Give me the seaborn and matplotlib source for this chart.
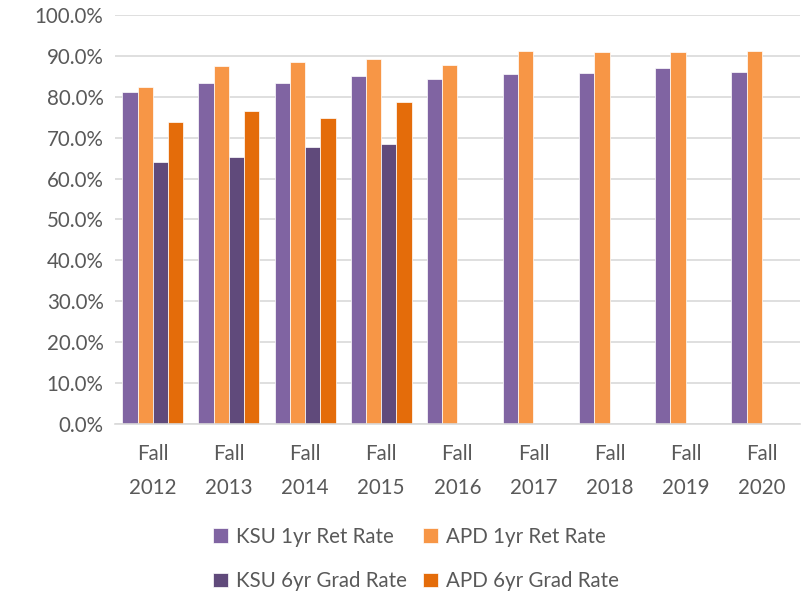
import numpy as np
import pandas as pd
import matplotlib
matplotlib.use("Agg")
import matplotlib.pyplot as plt
import seaborn as sns

# Data
terms = ["Fall\n2012", "Fall\n2013", "Fall\n2014", "Fall\n2015", "Fall\n2016",
         "Fall\n2017", "Fall\n2018", "Fall\n2019", "Fall\n2020"]
ksu_1yr = [81.1, 83.3, 83.4, 85.1, 84.3, 85.5, 85.8, 87.1, 86.0]
apd_1yr = [82.4, 87.4, 88.6, 89.3, 87.7, 91.1, 90.9, 90.9, 91.2]
ksu_6yr = [64.0, 65.3, 67.6, 68.5, np.nan, np.nan, np.nan, np.nan, np.nan]
apd_6yr = [73.7, 76.4, 74.8, 78.6, np.nan, np.nan, np.nan, np.nan, np.nan]

series = ["KSU 1yr Ret Rate", "APD 1yr Ret Rate", "KSU 6yr Grad Rate", "APD 6yr Grad Rate"]
colors = ["#8064A2", "#F79646", "#604A7B", "#E46C0A"]

df = pd.DataFrame({
    "Term": terms * 4,
    "Series": np.repeat(series, len(terms)),
    "Rate": ksu_1yr + apd_1yr + ksu_6yr + apd_6yr,
})

sns.set_style("white")
plt.rcParams["font.family"] = ["Lato", "DejaVu Sans"]

fig = plt.figure(figsize=(8.08, 5.94), dpi=100)
ax = fig.add_axes([0.142, 0.286, 0.848, 0.689])

sns.barplot(data=df, x="Term", y="Rate", hue="Series", hue_order=series,
            order=terms, palette=colors, width=0.8, saturation=1,
            edgecolor="white", linewidth=0.5, ax=ax, legend=True)

ax.set_ylim(0, 100)
ax.set_yticks(np.arange(0, 101, 10))
ax.set_yticklabels([f"{v:.1f}%" for v in range(0, 101, 10)])
ax.set_xlim(-0.5, len(terms) - 0.5)
ax.yaxis.grid(True, color="#D9D9D9", linewidth=1.2)
ax.set_axisbelow(True)
ax.set_xlabel("")
ax.set_ylabel("")
for s in ["top", "right", "left"]:
    ax.spines[s].set_visible(False)
ax.spines["bottom"].set_color("#D9D9D9")
ax.spines["bottom"].set_linewidth(1.2)
ax.tick_params(axis="both", length=0, labelsize=14.8, colors="#595959", pad=8)
ax.tick_params(axis="x", pad=14)
for lbl in ax.get_xticklabels():
    lbl.set_linespacing(1.9)

handles, labels = ax.get_legend_handles_labels()
ax.get_legend().remove()
# matplotlib fills legend columns first, so reorder to read row by row
idx = [0, 2, 1, 3]
fig.legend([handles[i] for i in idx], [labels[i] for i in idx], ncol=2,
           loc="center", bbox_to_anchor=(0.515, 0.059),
           frameon=False, fontsize=14.8, labelcolor="#595959",
           handlelength=0.7, handleheight=0.7, handletextpad=0.4,
           columnspacing=0.8, labelspacing=1.2)

fig.savefig("out.png", dpi=100)
